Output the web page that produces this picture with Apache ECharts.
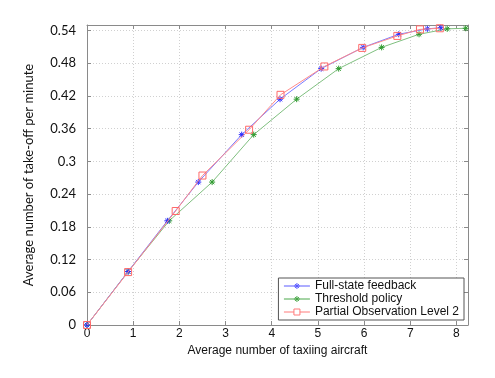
<!DOCTYPE html>
<html>
<head>
<meta charset="utf-8">
<script src="https://cdn.jsdelivr.net/npm/echarts@6/dist/echarts.min.js"></script>
<style>
  html, body { margin: 0; padding: 0; background: #fff; }
  #chart { width: 495px; height: 378px; }
</style>
</head>
<body>
<div id="chart"></div>
<script>
// data
var fullStateX = [0, 0.89, 1.74, 2.41, 3.35, 4.18, 5.07, 5.98, 6.75, 7.37, 7.66];
var fullStateY = [0, 0.098, 0.191, 0.262, 0.349, 0.414, 0.470, 0.509, 0.533, 0.543, 0.545];
var thresholdX = [0, 0.89, 1.78, 2.71, 3.61, 4.54, 5.45, 6.38, 7.19, 7.80, 8.20];
var thresholdY = [0, 0.098, 0.191, 0.262, 0.349, 0.414, 0.470, 0.509, 0.533, 0.543, 0.544];
var partialX = [0, 0.89, 1.92, 2.50, 3.51, 4.19, 5.14, 5.96, 6.72, 7.21, 7.64];
var partialY = [0, 0.097, 0.209, 0.274, 0.358, 0.422, 0.474, 0.508, 0.530, 0.542, 0.544];
var seriesNames = ['Full-state feedback', 'Threshold policy', 'Partial Observation Level 2'];

function pairs(xs, ys) {
    var out = [];
    for (var i = 0; i < xs.length; i++) {
        out.push([xs[i], ys[i]]);
    }
    return out;
}

var star = 'path://M0,-5L0,5M-5,0L5,0M-3.6,-3.6L3.6,3.6M-3.6,3.6L3.6,-3.6';
// legend icons: short line with the marker in the middle
var starIcon = 'path://M0,4L26,4M13,1L13,7M10,4L16,4M11,2L15,6M11,6L15,2';
var rectIcon = 'path://M0,4L10,4M16,4L26,4M10,1L16,1L16,7L10,7Z';
var font = 'Liberation Sans';
var yFont = 'Lato';

var chart = echarts.init(document.getElementById('chart'));
var gridLine = { show: true, lineStyle: { color: '#d0d0d0', type: [1, 2], width: 1 } };
var frame = { show: true, onZero: false, lineStyle: { color: '#8a8a8a', width: 1 } };
var tick = { inside: true, length: 4, lineStyle: { color: '#8a8a8a' } };

var option = {
    animation: false,
    textStyle: { fontFamily: font },
    grid: { left: 87, top: 25, right: 27, bottom: 53 },
    legend: {
        data: [
            { name: seriesNames[0], icon: starIcon, itemStyle: { color: 'none', borderColor: '#5a5aff', borderWidth: 1 } },
            { name: seriesNames[1], icon: starIcon, itemStyle: { color: 'none', borderColor: '#4aa84a', borderWidth: 1 } },
            { name: seriesNames[2], icon: rectIcon, itemStyle: { color: 'none', borderColor: '#ff7a7a', borderWidth: 1 } }
        ],
        orient: 'vertical',
        right: 31,
        bottom: 58,
        itemWidth: 26,
        itemHeight: 8,
        itemGap: 1,
        padding: [2, 5, 2, 3],
        borderColor: '#555',
        borderWidth: 1,
        backgroundColor: '#fff',
        textStyle: { fontFamily: font, fontSize: 12, color: '#111' }
    },
    xAxis: [{
        type: 'value',
        min: 0, max: 8.25, interval: 1,
        name: 'Average number of taxiing aircraft',
        nameLocation: 'middle',
        nameGap: 16,
        nameTextStyle: { fontSize: 12, color: '#111' },
        axisLine: frame,
        axisTick: tick,
        axisLabel: { fontSize: 12, color: '#111', margin: 3, showMaxLabel: false },
        splitLine: gridLine
    }, {
        type: 'value', position: 'top',
        min: 0, max: 8.25, interval: 1,
        axisLine: frame,
        axisTick: tick,
        axisLabel: { show: false },
        splitLine: { show: false }
    }],
    yAxis: [{
        type: 'value',
        min: 0, max: 0.55, interval: 0.06,
        name: 'Average number of take-off per minute',
        nameLocation: 'middle',
        nameGap: 52,
        nameTextStyle: { fontFamily: yFont, fontSize: 13, color: '#111' },
        axisLine: frame,
        axisTick: tick,
        axisLabel: { fontFamily: yFont, fontSize: 13, color: '#111', margin: 11, showMaxLabel: false },
        splitLine: gridLine
    }, {
        type: 'value', position: 'right',
        min: 0, max: 0.55, interval: 0.06,
        axisLine: frame,
        axisTick: tick,
        axisLabel: { show: false },
        splitLine: { show: false }
    }],
    series: [{
        name: seriesNames[0],
        type: 'line',
        data: pairs(fullStateX, fullStateY),
        symbol: star, symbolSize: 6,
        lineStyle: { color: '#7a7aff', width: 1 },
        itemStyle: { color: 'none', borderColor: '#2a2aff', borderWidth: 1 },
        z: 3
    }, {
        name: seriesNames[1],
        type: 'line',
        data: pairs(thresholdX, thresholdY),
        symbol: star, symbolSize: 6,
        lineStyle: { color: '#7fbf7f', width: 1 },
        itemStyle: { color: 'none', borderColor: '#2e9a2e', borderWidth: 1 },
        z: 2
    }, {
        name: seriesNames[2],
        type: 'line',
        data: pairs(partialX, partialY),
        symbol: 'rect', symbolSize: 7,
        lineStyle: { color: '#ff8a8a', width: 1 },
        itemStyle: { color: 'none', borderColor: '#ff6a6a', borderWidth: 1 },
        z: 4
    }]
};
chart.setOption(option);
</script>
</body>
</html>
